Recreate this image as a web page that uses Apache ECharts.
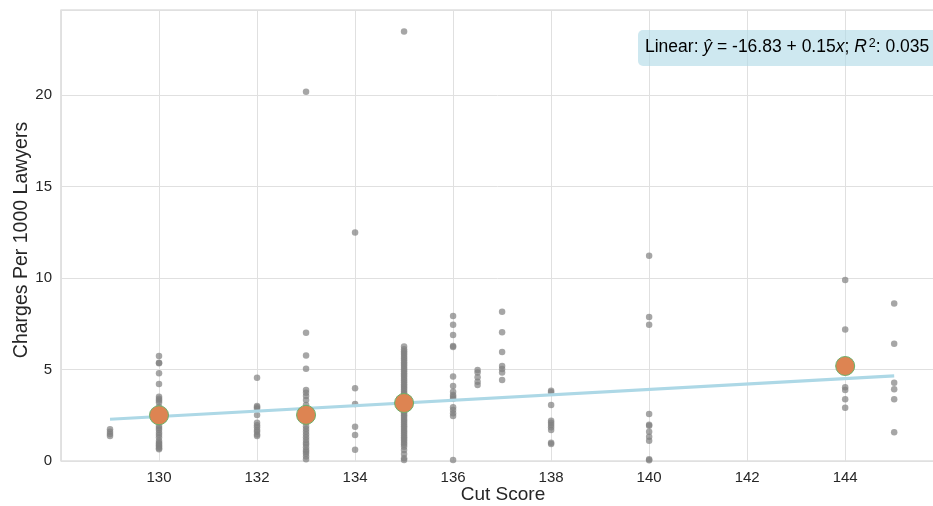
<!DOCTYPE html>
<html>
<head>
<meta charset="utf-8">
<script src="https://cdn.jsdelivr.net/npm/echarts@6/dist/echarts.min.js"></script>
<style>
html,body{margin:0;padding:0;background:#fff;overflow:hidden;}
#chart{width:933px;height:506px;}
</style>
</head>
<body>
<div id="chart"></div>
<script>
// ---- data ----
const charges129 = [1.73, 1.6, 1.48, 1.37];
const charges130 = [5.74, 5.37, 5.34, 4.79, 4.21, 3.51, 3.40, 3.30, 3.19, 2.95, 2.75, 2.55, 2.35, 2.15, 1.91, 1.8, 1.69, 1.55, 1.42, 1.29, 1.11, 1.0, 0.93, 0.85, 0.78, 0.7, 0.64];
const charges132 = [4.55, 3.0, 2.93, 2.85, 2.51, 2.09, 1.95, 1.84, 1.7, 1.6, 1.45, 1.37];
const charges133 = [20.18, 7.01, 5.77, 5.04, 3.88, 3.73, 3.55, 3.33, 3.06, 2.9, 2.7, 2.5, 2.3, 2.1, 1.9, 1.75, 1.6, 1.45, 1.3, 1.15, 1.0, 0.9, 0.75, 0.6, 0.5, 0.4, 0.25, 0.09];
const charges134 = [12.49, 3.97, 3.11, 1.87, 1.42, 0.62];
const charges135 = [23.46, 6.25, 6.1, 6.0, 5.9, 5.8, 5.7, 5.6, 5.5, 5.4, 5.3, 5.2, 5.1, 5.0, 4.9, 4.8, 4.7, 4.6, 4.5, 4.4, 4.3, 4.2, 4.1, 4.0, 3.9, 3.8, 3.7, 3.6, 3.5, 3.4, 3.3, 3.2, 3.1, 3.0, 2.9, 2.8, 2.7, 2.6, 2.5, 2.4, 2.3, 2.2, 2.1, 2.0, 1.9, 1.8, 1.7, 1.6, 1.5, 1.4, 1.3, 1.2, 1.1, 1.0, 0.9, 0.78, 0.6, 0.38, 0.15, 0.05];
const charges136 = [7.92, 7.45, 6.89, 6.28, 6.23, 4.61, 4.10, 3.79, 3.61, 3.51, 3.40, 2.93, 2.79, 2.61, 2.46, 0.05];
const charges1365 = [4.97, 4.83, 4.57, 4.33, 4.15];
const charges137 = [8.16, 7.03, 5.96, 5.19, 5.03, 4.83, 4.43];
const charges138 = [3.84, 3.75, 3.06, 2.20, 2.09, 1.97, 1.84, 1.69, 1.0, 0.93];
const charges140 = [11.22, 7.87, 7.45, 2.57, 1.98, 1.93, 1.6, 1.33, 1.11, 0.09, 0.04];
const charges144 = [9.89, 7.18, 5.2, 4.03, 3.88, 3.37, 2.91];
const charges145 = [8.6, 6.41, 4.28, 3.92, 3.37, 1.57];

const cutScores = [129, 130, 132, 133, 134, 135, 136, 136.5, 137, 138, 140, 144, 145];
const chargesByCut = [charges129, charges130, charges132, charges133, charges134, charges135, charges136, charges1365, charges137, charges138, charges140, charges144, charges145];

// group means (orange markers)
const meanCut = [130, 133, 135, 144];
const meanCharges = [2.5, 2.52, 3.17, 5.19];

// linear fit endpoints
const fitX = [129, 145];
const fitY = [2.28, 4.65];

const xTicks = [130, 132, 134, 136, 138, 140, 142, 144];
const yTicks = [0, 5, 10, 15, 20];

// ---- build ----
const scatterData = [];
cutScores.forEach((c, i) => chargesByCut[i].forEach(v => scatterData.push([c, v])));
const meanData = meanCut.map((c, i) => [c, meanCharges[i]]);
const fitData = fitX.map((c, i) => [c, fitY[i]]);

const FONT = '"Liberation Sans", Arial, sans-serif';
const chart = echarts.init(document.getElementById('chart'), null, {renderer: 'canvas'});
chart.setOption({
  animation: false,
  backgroundColor: '#ffffff',
  grid: {left: 61, right: -20, top: 10, bottom: 45, show: true, borderColor: '#d0d0d0', borderWidth: 1.2,
    containLabel: false, outerBoundsMode: 'none'},
  xAxis: {
    type: 'value', min: 128, max: 146.2, interval: 2,
    name: 'Cut Score', nameLocation: 'middle', nameGap: 24, nameMoveOverlap: false,
    nameTextStyle: {fontFamily: FONT, fontSize: 19, color: '#262626', padding: [0, 8, 0, 0]},
    axisLine: {show: false}, axisTick: {show: false},
    axisLabel: {fontFamily: FONT, fontSize: 15, color: '#262626', margin: 9, showMinLabel: false, showMaxLabel: false,
      formatter: v => xTicks.includes(v) ? String(v) : ''},
    splitLine: {show: true, lineStyle: {color: '#e0e0e0', width: 1}}
  },
  yAxis: {
    type: 'value', min: 0, max: 24.64, interval: 5,
    name: 'Charges Per 1000 Lawyers', nameLocation: 'middle', nameGap: 29, nameMoveOverlap: false,
    nameTextStyle: {fontFamily: FONT, fontSize: 19.5, color: '#262626', padding: [0, 9, 0, 0]},
    axisLine: {show: false}, axisTick: {show: false},
    axisLabel: {fontFamily: FONT, fontSize: 15, color: '#262626', margin: 9, showMaxLabel: false,
      formatter: v => yTicks.includes(v) ? String(v) : ''},
    splitLine: {show: true, lineStyle: {color: '#e0e0e0', width: 1}}
  },
  series: [
    {type: 'scatter', data: scatterData, symbolSize: 6.5, z: 2,
      itemStyle: {color: '#808080', opacity: 0.7}},
    {type: 'line', data: fitData, showSymbol: false, symbol: 'none', z: 3,
      lineStyle: {color: '#add8e6', width: 3.2}},
    {type: 'scatter', data: meanData, symbolSize: 19, z: 4,
      itemStyle: {color: '#dd8452', borderColor: '#6ab06a', borderWidth: 1, opacity: 1}}
  ],
  graphic: [
    {type: 'rect', left: 638, top: 30, z: 100,
      shape: {width: 320, height: 36, r: 5},
      style: {fill: 'rgba(173,216,230,0.6)'}},
    {type: 'text', left: 645, top: 37, z: 101,
      style: {
        text: '{n|Linear: }{i|ŷ}{n| = -16.83 + 0.15}{i|x}{n|; }{i|R}{s|2}{n|: 0.035}',
        rich: {
          n: {fontFamily: FONT, fontSize: 17.5, color: '#262626'},
          i: {fontFamily: FONT, fontSize: 17.5, fontStyle: 'italic', color: '#262626'},
          s: {fontFamily: FONT, fontSize: 12.5, color: '#262626', verticalAlign: 'top', padding: [0, 0, 8, 2]}
        }
      }}
  ]
});
</script>
</body>
</html>
